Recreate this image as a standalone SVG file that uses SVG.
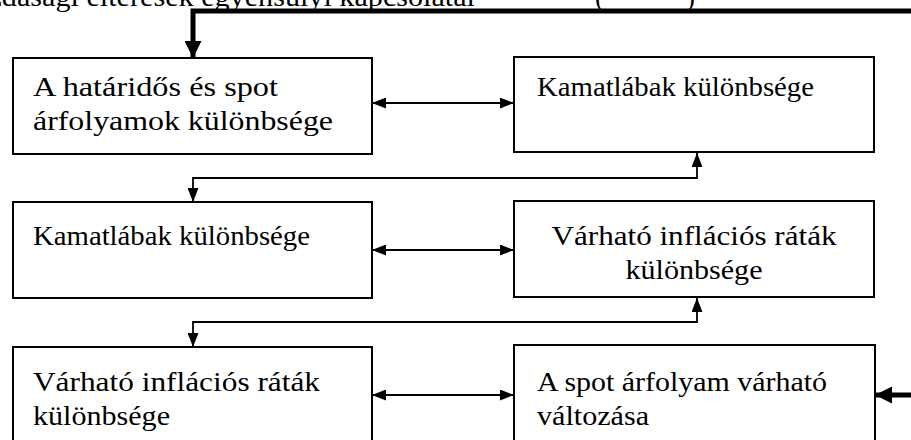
<svg xmlns="http://www.w3.org/2000/svg" width="911" height="440" viewBox="0 0 911 440">
  <style>
    .box { fill: #ffffff; stroke: #000000; stroke-width: 2; }
    .lbl { font-family: "Liberation Serif", "Times New Roman", serif; font-size: 27px; fill: #000000; }
    .mid { text-anchor: middle; }
    .link { fill: none; stroke: #000000; stroke-width: 1.8; }
    .feedback { fill: none; stroke: #000000; stroke-width: 5; }
  </style>
  <defs>
    <marker id="head" markerUnits="userSpaceOnUse" markerWidth="14" markerHeight="11" refX="14" refY="5.5" orient="auto-start-reverse">
      <path d="M0,0 L14,5.5 L0,11 z" fill="#000000"/>
    </marker>
    <marker id="headBold" markerUnits="userSpaceOnUse" markerWidth="17" markerHeight="17" refX="17" refY="8.5" orient="auto">
      <path d="M0,0 L17,8.5 L0,17 z" fill="#000000"/>
    </marker>
  </defs>

  <rect width="911" height="440" fill="#ffffff"/>

  <!-- running line of the page, cut by the top edge -->
  <g id="page-line">
    <text class="lbl" x="-40" y="6" textLength="515" lengthAdjust="spacingAndGlyphs">gazdasági eltérések egyensúlyi kapcsolatai</text>
    <text class="lbl" x="595" y="6">(</text>
    <text class="lbl" x="686" y="6">)</text>
  </g>

  <g id="connectors">
    <!-- feedback loop entering from the right -->
    <polyline class="feedback" points="915,11 193,11 193,58" marker-end="url(#headBold)"/>
    <line class="feedback" x1="915" y1="395" x2="875" y2="395" marker-end="url(#headBold)"/>
    <!-- row links -->
    <line class="link" x1="372" y1="103" x2="514" y2="103" marker-start="url(#head)" marker-end="url(#head)"/>
    <line class="link" x1="372" y1="250" x2="514" y2="250" marker-start="url(#head)" marker-end="url(#head)"/>
    <line class="link" x1="372" y1="395" x2="514" y2="395" marker-start="url(#head)" marker-end="url(#head)"/>
    <!-- links between rows -->
    <polyline class="link" points="697,153 697,178 193,178 193,202" marker-start="url(#head)" marker-end="url(#head)"/>
    <polyline class="link" points="697,298 697,322 193,322 193,347" marker-start="url(#head)" marker-end="url(#head)"/>
  </g>

  <g id="forward-spot-diff">
    <rect class="box" x="13" y="58" width="359" height="96"/>
    <text class="lbl" x="33" y="96" textLength="245" lengthAdjust="spacingAndGlyphs">A határidős és spot</text>
    <text class="lbl" x="33" y="130" textLength="300" lengthAdjust="spacingAndGlyphs">árfolyamok különbsége</text>
  </g>

  <g id="interest-diff-a">
    <rect class="box" x="514" y="57" width="360" height="95"/>
    <text class="lbl" x="537" y="96" textLength="277" lengthAdjust="spacingAndGlyphs">Kamatlábak különbsége</text>
  </g>

  <g id="interest-diff-b">
    <rect class="box" x="13" y="202" width="359" height="96"/>
    <text class="lbl" x="33" y="245" textLength="277" lengthAdjust="spacingAndGlyphs">Kamatlábak különbsége</text>
  </g>

  <g id="inflation-diff-a">
    <rect class="box" x="514" y="201" width="360" height="96"/>
    <text class="lbl mid" x="694" y="245" textLength="285" lengthAdjust="spacingAndGlyphs">Várható inflációs ráták</text>
    <text class="lbl mid" x="694" y="279" textLength="137" lengthAdjust="spacingAndGlyphs">különbsége</text>
  </g>

  <g id="inflation-diff-b">
    <rect class="box" x="13" y="347" width="359" height="100"/>
    <text class="lbl" x="33" y="391" textLength="287" lengthAdjust="spacingAndGlyphs">Várható inflációs ráták</text>
    <text class="lbl" x="33" y="425" textLength="137" lengthAdjust="spacingAndGlyphs">különbsége</text>
  </g>

  <g id="spot-change">
    <rect class="box" x="514" y="345" width="361" height="102"/>
    <text class="lbl" x="537" y="391" textLength="290" lengthAdjust="spacingAndGlyphs">A spot árfolyam várható</text>
    <text class="lbl" x="537" y="425" textLength="112" lengthAdjust="spacingAndGlyphs">változása</text>
  </g>
</svg>
